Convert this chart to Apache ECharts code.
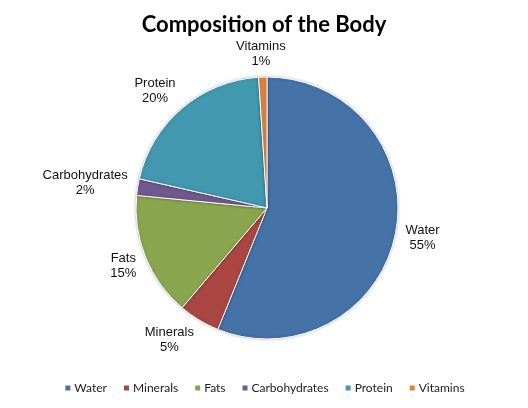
<!DOCTYPE html>
<html><head><meta charset="utf-8">
<script src="https://cdn.jsdelivr.net/npm/echarts@6/dist/echarts.min.js"></script>
<style>html,body{margin:0;padding:0;background:#fff}#c{width:528px;height:408px}</style>
</head><body><div id="c"></div>
<script>
const categories = ['Water', 'Minerals', 'Fats', 'Carbohydrates', 'Protein', 'Vitamins'];
const values = [55, 5, 15, 2, 20, 1];
const colors = ['#4572A7', '#AA4643', '#89A54E', '#71588F', '#4198AF', '#DB843D'];

const CX = 267, CY = 208, R = 131;
const total = values.reduce((a, b) => a + b, 0);
// mid angle of each slice, measured clockwise from 12 o'clock
const midAngles = [];
{
  let acc = 0;
  values.forEach(v => {
    const a = v / total * 2 * Math.PI;
    midAngles.push(acc + a / 2);
    acc += a;
  });
}

const chart = echarts.init(document.getElementById('c'), null, {renderer: 'canvas'});
chart.setOption({
  animation: false,
  color: colors,
  title: {
    text: 'Composition of the Body',
    left: 'center', top: 9,
    textStyle: {fontFamily: 'Lato', fontWeight: 'bold', fontSize: 22, color: '#000'}
  },
  legend: {
    bottom: 9, left: 'center',
    icon: 'rect', itemWidth: 7, itemHeight: 7, itemGap: 15,
    textStyle: {fontFamily: 'Lato', fontSize: 12, color: '#222', padding: [0, 0, 0, -2]},
    data: categories
  },
  series: [{
    type: 'pie',
    center: [CX, CY],
    radius: R,
    startAngle: 90,
    clockwise: true,
    avoidLabelOverlap: false,
    itemStyle: {borderColor: '#fff', borderWidth: 1, shadowBlur: 3, shadowColor: 'rgba(0,0,0,0.25)'},
    label: {
      show: true, position: 'outside',
      fontFamily: 'Liberation Sans', fontSize: 13, color: '#111', lineHeight: 15,
      formatter: p => p.name + '\n' + p.value + '%'
    },
    labelLine: {show: false, length: 8, length2: 0},
    labelLayout: p => {
      const t = midAngles[p.dataIndex];
      const ux = Math.sin(t), uy = -Math.cos(t);
      const w = p.labelRect.width, h = p.labelRect.height;
      const kx = Math.max(-1, Math.min(1, ux * 2));
      return {
        x: CX + (R + 10) * ux + kx * w / 2,
        y: CY + (R + 8) * uy + uy * h / 2,
        align: 'center', verticalAlign: 'middle'
      };
    },
    data: categories.map((n, i) => ({name: n, value: values[i]}))
  }]
});
</script></body></html>
